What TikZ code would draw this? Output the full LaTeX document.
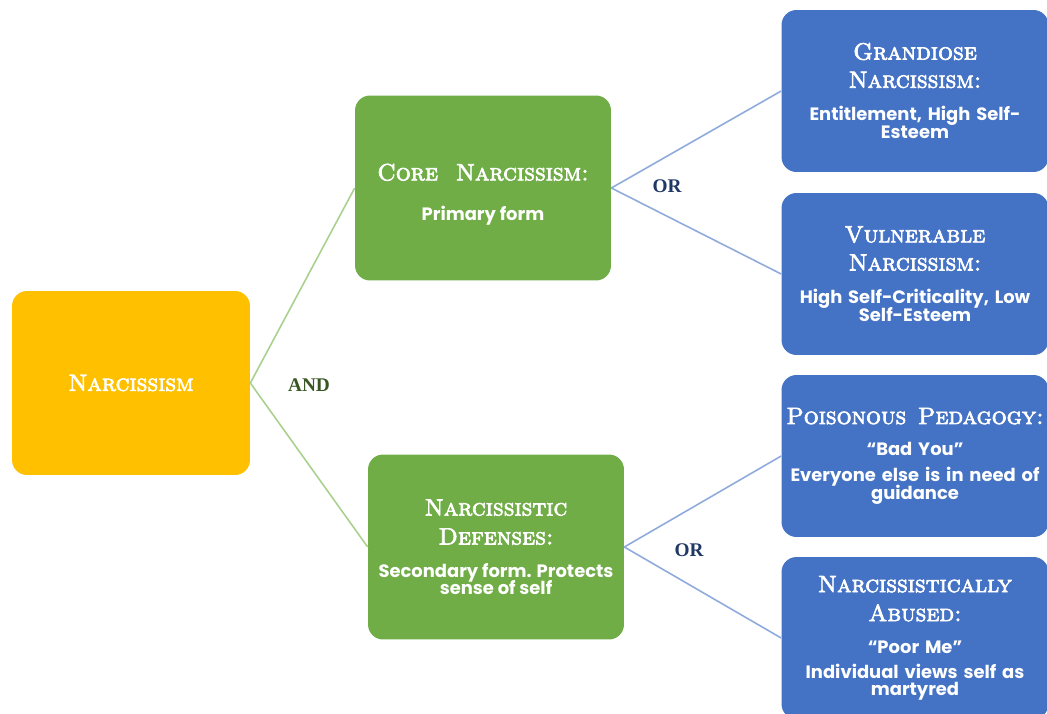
\documentclass[tikz,border=0pt]{standalone}
\usepackage{fontspec}
\newfontfamily\bodyfont{Poppins}
\newfontfamily\titlefont[Extension=.otf, FakeBold=3]{lmromancaps10-regular}
\newfontfamily\joinfont{Liberation Serif}
\usetikzlibrary{positioning}

\definecolor{rootfill}{HTML}{FFC000}
\definecolor{midfill}{HTML}{70AD47}
\definecolor{leaffill}{HTML}{4472C4}
\definecolor{andline}{HTML}{A9D18E}
\definecolor{orline}{HTML}{8FAADC}
\definecolor{andtext}{HTML}{385723}
\definecolor{ortext}{HTML}{203864}

\newcommand{\ttl}[1]{{\titlefont\fontsize{13.4}{16}\selectfont #1}}
\newcommand{\txt}[1]{{\bodyfont\bfseries\fontsize{10.2}{10.5}\selectfont #1}}

\begin{document}
\begin{tikzpicture}[
		x=0.02cm, y=-0.02cm,
		every node/.style={text=white, align=center, rounded corners=0.3cm, inner sep=2pt},
		rootbox/.style={fill=rootfill, minimum width=4.76cm, minimum height=3.68cm},
		midbox/.style={fill=midfill, minimum width=5.12cm, minimum height=3.7cm},
		leafbox/.style={fill=leaffill, minimum width=5.24cm, minimum height=3.24cm, text width=5.2cm},
		andlink/.style={draw=andline, line width=0.9pt},
		orlink/.style={draw=orline, line width=0.9pt},
		joinlabel/.style={font=\joinfont\bfseries\fontsize{11}{12}\selectfont}
		]
	
		\useasboundingbox (0,0) rectangle (1047,713);
	
		% root and the two forms
		\node[rootbox] at (131,383) (narcnode) {\ttl{Narcissism}};
		\node[midbox] at (483,188) (corenode) {\rule{0pt}{17pt}\ttl{Core\ \ Narcissism:}\\[11pt] \txt{Primary form}};
		\node[midbox] at (496,547) (defnode) {\ttl{Narcissistic}\\[4.5pt] \ttl{Defenses:}\\[6.8pt] \txt{Secondary form. Protects}\\[-2.3pt] \txt{sense of self}};
		
		% the four leaves
		\node[leafbox] at (915,91) (grandnode) {\ttl{Grandiose}\\[4pt] \ttl{Narcissism:}\\[6.8pt] \txt{Entitlement, High Self-}\\[-1.7pt] \txt{Esteem}};
		\node[leafbox] at (915,274) (vulnnode) {\ttl{Vulnerable}\\[4pt] \ttl{Narcissism:}\\[6.8pt] \txt{High Self-Criticality, Low}\\[-1.7pt] \txt{Self-Esteem}};
		\node[leafbox] at (915,456) (poisnode) {\ttl{Poisonous\ \ Pedagogy:}\\[6.2pt] \txt{“Bad You”}\\[2.3pt] \txt{Everyone else is in need of}\\[-1.7pt] \txt{guidance}};
		\node[leafbox] at (915,638) (abusenode) {\ttl{Narcissistically}\\[4.5pt] \ttl{Abused:}\\[6.2pt] \txt{“Poor Me”}\\[2.3pt] \txt{Individual views self as}\\[-2.3pt] \txt{martyred}};
		
		% connectors
		\draw[andlink] (narcnode.east) -- (corenode.west);
		\draw[andlink] (narcnode.east) -- (defnode.west);
		\draw[orlink] (corenode.east) -- (grandnode.west);
		\draw[orlink] (corenode.east) -- (vulnnode.west);
		\draw[orlink] (defnode.east) -- (poisnode.west);
		\draw[orlink] (defnode.east) -- (abusenode.west);
		
		\node[joinlabel, text=andtext] at (309,385) (andlabel) {AND};
		\node[joinlabel, text=ortext] at (667,186) (orlabeltop) {OR};
		\node[joinlabel, text=ortext] at (689,550) (orlabelbot) {OR};
		
	\end{tikzpicture}
\end{document}
